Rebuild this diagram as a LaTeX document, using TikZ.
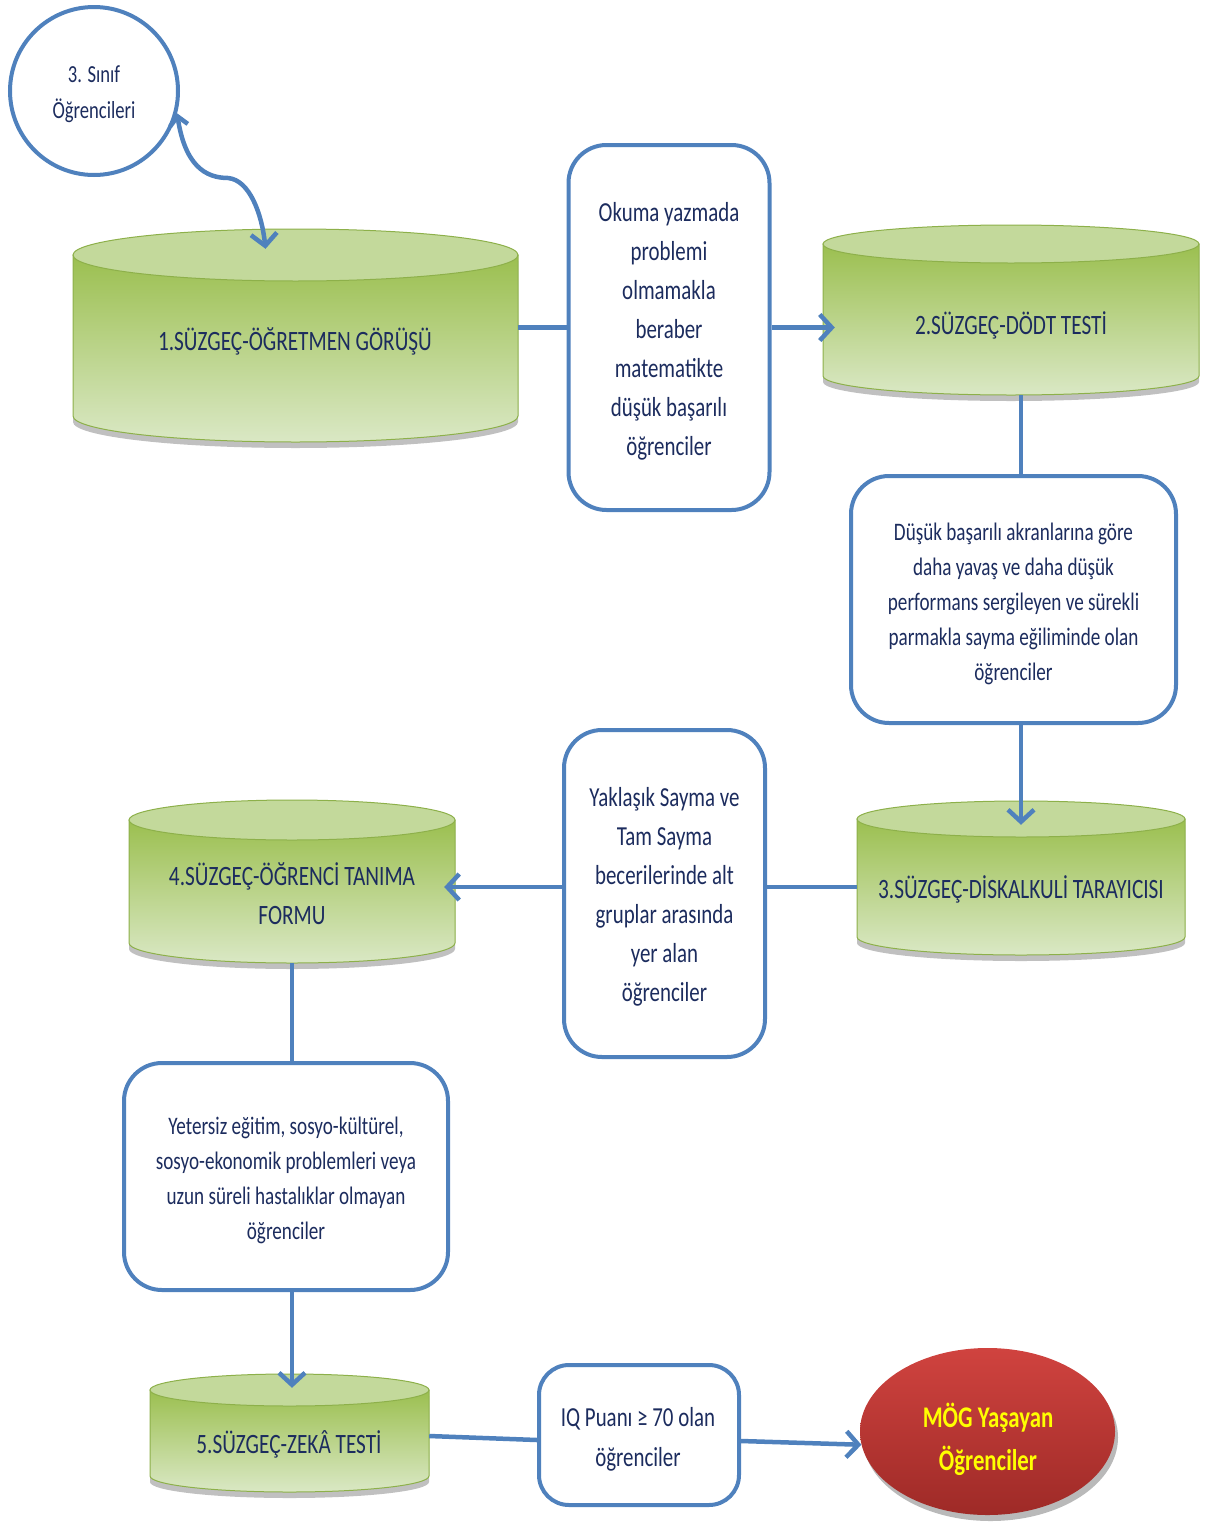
\documentclass[tikz,border=0pt]{standalone}
\usepackage{fontspec}
\setmainfont{Carlito}[FakeStretch=0.76]
\usetikzlibrary{arrows.meta,calc,shadows,shapes.geometric}
\definecolor{lnblue}{HTML}{4F81BD}
\definecolor{txtnavy}{HTML}{1C2C5E}
\definecolor{cyltop}{HTML}{C3D99B}
\definecolor{cylbodytop}{HTML}{9BBF4F}
\definecolor{cylbodybot}{HTML}{DAE8C5}
\definecolor{cylline}{HTML}{8DB04A}
\definecolor{redtop}{HTML}{D0433F}
\definecolor{redbot}{HTML}{9E2A27}
\definecolor{moyellow}{HTML}{FFFF00}
\newcommand\mycyl[6]{% #1 name, #2 x1, #3 x2, #4 top centre y, #5 bottom centre y, #6 ry
  \pgfmathsetmacro\cylrx{(#3-#2)/2}
  \pgfmathsetmacro\cylcx{(#3+#2)/2}
  \fill[black!45,opacity=0.55] (#2,#4+6) -- (#2,#5+6) arc[start angle=180,end angle=360,x radius=\cylrx pt,y radius=#6 pt] -- (#3,#4+6) -- cycle;
  \path[draw=cylline,line width=1pt,top color=cylbodytop,bottom color=cylbodybot] (#2,#4) -- (#2,#5) arc[start angle=180,end angle=360,x radius=\cylrx pt,y radius=#6 pt] -- (#3,#4) -- cycle;
  \path[draw=cylline,line width=1pt,fill=cyltop] (\cylcx,#4) ellipse[x radius=\cylrx pt,y radius=#6 pt];
  \node[inner sep=0,minimum width=#3-#2,minimum height=#5-#4+2*#6] (#1) at (\cylcx,{(#4+#5)/2}) {};
}
\begin{document}
\begin{tikzpicture}[x=1pt,y=-1pt,
  box/.style={draw=lnblue,line width=4pt,fill=white,rounded corners=38pt,inner sep=0pt,align=center,text=txtnavy},
  circ/.style={circle,draw=lnblue,line width=4pt,fill=white,inner sep=0pt,minimum size=168,align=center,text=txtnavy,font=\fontsize{24.5}{36}\selectfont},
  cyltxt/.style={align=center,text=txtnavy,inner sep=0pt,font=\fontsize{28}{39}\selectfont},
  conn/.style={draw=lnblue,line width=4.5pt},
  arr/.style={conn,-{Straight Barb[length=12pt,width=26pt]}},
]
\useasboundingbox (0,0) rectangle (1213,1526);

% cylinders
\mycyl{c1}{73}{518}{255}{416}{26}
\mycyl{c2}{823}{1199}{244}{376}{19}
\mycyl{c3}{857}{1185}{819}{937}{18}
\mycyl{c4}{129}{455}{820}{943}{20}
\mycyl{c5}{150}{429}{1390}{1476}{16}

\node[cyltxt] (c1t) at (295,341) {1.SÜZGEÇ-ÖĞRETMEN GÖRÜŞÜ};
\node[cyltxt] (c2t) at (1011,325) {2.SÜZGEÇ-DÖDT TESTİ};
\node[cyltxt] (c3t) at (1021,889) {3.SÜZGEÇ-DİSKALKULİ TARAYICISI};
\node[cyltxt] (c4t) at (292,894) {4.SÜZGEÇ-ÖĞRENCİ TANIMA\\FORMU};
\node[cyltxt] (c5t) at (289,1444) {5.SÜZGEÇ-ZEKÂ TESTİ};

% circle
\node[circ] (cls) at (94,91) {};
\node[align=center,text=txtnavy,inner sep=0pt,font=\fontsize{24.5}{36}\selectfont] (clst) at (94,94) {3. Sınıf\\Öğrencileri};

% boxes
\node[box,minimum width=201,minimum height=365,font=\fontsize{27.5}{39}\selectfont] (b1) at (669,327.5) {};
\node[align=center,text=txtnavy,inner sep=0pt,font=\fontsize{27.5}{39}\selectfont] (b1t) at (669,331)
  {Okuma yazmada\\problemi\\olmamakla\\beraber\\matematikte\\düşük başarılı\\öğrenciler};
\node[box,minimum width=325,minimum height=247] (b2) at (1013.5,599.5) {};
\node[align=center,text=txtnavy,inner sep=0pt,font=\fontsize{25.2}{35}\selectfont] (b2t) at (1013.5,604)
  {Düşük başarılı akranlarına göre\\daha yavaş ve daha düşük\\performans sergileyen ve sürekli\\parmakla sayma eğiliminde olan\\öğrenciler};
\node[box,minimum width=201,minimum height=327] (b3) at (664.5,893.5) {};
\node[align=center,text=txtnavy,inner sep=0pt,font=\fontsize{27.5}{39}\selectfont] (b3t) at (664.5,897)
  {Yaklaşık Sayma ve\\Tam Sayma\\becerilerinde alt\\gruplar arasında\\yer alan\\öğrenciler};
\node[box,minimum width=324,minimum height=227] (b4) at (286,1176.5) {};
\node[align=center,text=txtnavy,inner sep=0pt,font=\fontsize{25.2}{35}\selectfont] (b4t) at (286,1180.5)
  {Yetersiz eğitim, sosyo-kültürel,\\sosyo-ekonomik problemleri veya\\uzun süreli hastalıklar olmayan\\öğrenciler};
\node[box,minimum width=200,minimum height=140,rounded corners=30pt] (b5) at (639,1435) {};
\node[align=center,text=txtnavy,inner sep=0pt,font=\fontsize{27.5}{40}\selectfont] (b5t) at (638,1439)
  {IQ Puanı ≥ 70 olan\\öğrenciler};

% final ellipse
\node[ellipse,minimum width=255,minimum height=167,inner sep=0pt,top color=redtop,bottom color=redbot,
  drop shadow={shadow xshift=3pt,shadow yshift=-6pt,fill=black!55,opacity=0.5}] (mog) at (987.5,1431.5) {};
\node[text=moyellow,align=center,inner sep=0pt,font=\bfseries\fontsize{30}{43}\selectfont] (mogt) at (988,1439)
  {MÖG Yaşayan\\Öğrenciler};

% connectors
\draw[conn,{Straight Barb[length=9pt,width=18pt]}-{Straight Barb[length=12pt,width=26pt]}]
  (cls.-15) .. controls (185,165) and (205,178) .. (228,178)
  .. controls (250,180) and (262,215) .. ($(c1.north)+(-30,20)$);
\draw[conn] (b1.west) -- (b1.west -| c1.east);
\draw[arr,shorten >=-12pt] (b1.east) -- (b1.east -| c2.west);
\draw[conn] (c3.north |- c2.south) -- (c3.north |- b2.north);
\draw[arr] (c3.north |- b2.south) -- ($(c3.north)+(0,24)$);
\coordinate (m34) at ($(c3.west)+(0,9)$);
\draw[conn] (m34) -- (m34 -| b3.east);
\draw[arr,shorten >=-11pt] (m34 -| b3.west) -- (m34 -| c4.east);
\draw[conn] (c4.south) -- (c4.south |- b4.north);
\draw[arr,shorten >=-14pt] (c4.south |- b4.south) -- (c4.south |- c5.north);
\draw[conn] ($(c5.east)+(0,3)$) -- ($(b5.west)+(0,5)$);
\draw[arr] ($(b5.east)+(0,6)$) -- (mog.186);
\end{tikzpicture}
\end{document}
